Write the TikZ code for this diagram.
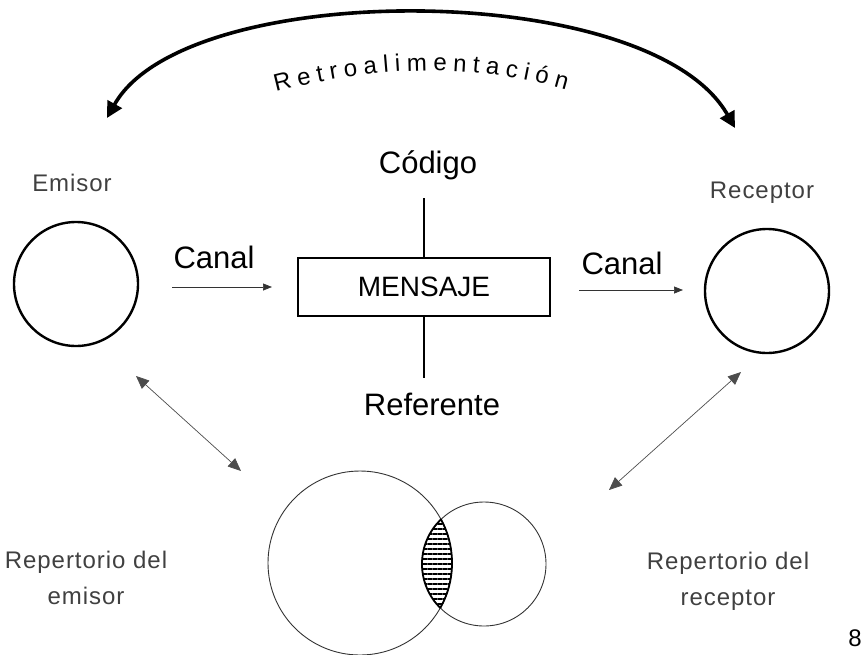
\documentclass[tikz,border=0pt]{standalone}
\usepackage{fontspec}
\setmainfont{Liberation Sans}
\newfontfamily\thinfont[LetterSpace=4]{Liberation Sans}
\usetikzlibrary{arrows.meta,decorations.text,patterns.meta}

\tikzset{
  persona/.style={circle,draw,line width=2.4pt,minimum size=124pt,inner sep=0pt},
  rotulo/.style={font=\thinfont\fontsize{24}{24}\selectfont,text=black!75},
  grande/.style={font=\fontsize{31}{31}\selectfont},
  flujo/.style={-{Triangle[length=9pt,width=7pt]},line width=0.7pt,black!80},
  mutuo/.style={{Triangle[length=13pt,width=11pt]}-{Triangle[length=13pt,width=11pt]},line width=0.7pt,black!70},
  venn/.style={circle,draw=black!80,line width=0.9pt,inner sep=0pt},
  caja/.style={draw,line width=2.4pt,minimum width=252pt,minimum height=58pt,inner sep=0pt,font=\fontsize{28}{28}\selectfont}
}

\begin{document}
\begin{tikzpicture}[x=1pt,y=-1pt]
	\useasboundingbox (0,0) rectangle (863,654);
	% retroalimentacion
	\coordinate (fbL) at (107,118);
	\coordinate (fbR) at (735,128);
	\draw[line width=3.6pt,{Triangle[length=16pt,width=16pt]}-{Triangle[length=16pt,width=16pt]}] (fbL) .. controls (185,-22) and (650,-22) .. (fbR);
	\path[decorate,decoration={text along path,text align=fit to path,text format delimiters={|}{|},
		text={|\fontsize{24}{24}\selectfont|Retroalimentación}}] (276,92) .. controls (385,64) and (475,64) .. (566,90);
	% emisor y receptor
	\node[persona] (emisor) at (76,284) {};
	\node[rotulo] (emisorlbl) at (72,183) {Emisor};
	\node[persona] (receptor) at (767,291) {};
	\node[rotulo] (receptorlbl) at (762,193) {Receptor};
	% mensaje
	\node[caja] (mensaje) at (424,287) {MENSAJE};
	\node[grande] (codigo) at (428,165) {Código};
	\node[grande] (referente) at (432,404) {Referente};
	\coordinate (codtop) at (424,198);
	\coordinate (refbot) at (424,378);
	\draw[line width=2.8pt] (codtop) -- (mensaje.north);
	\draw[line width=2.8pt] (mensaje.south) -- (refbot);
	% canales
	\node[grande] (canalE) at (214,257) {Canal};
	\node[grande] (canalR) at (622,263) {Canal};
	\coordinate (cEa) at (172,287);
	\coordinate (cEb) at (272,287);
	\coordinate (cRa) at (579,290);
	\coordinate (cRb) at (683,290);
	\draw[flujo] (cEa) -- (cEb);
	\draw[flujo] (cRa) -- (cRb);
	% repertorios
	\node[venn,minimum size=184pt] (repE) at (360,563) {};
	\node[venn,minimum size=124pt] (repR) at (484,564) {};
	\begin{scope}
		\clip (repE.center) circle (92);
		\fill[pattern={Lines[angle=0,distance=5pt,line width=2pt]}] (repR.center) circle (62);
		\draw[line width=1.8pt] (repR.center) circle (62);
	\end{scope}
	\begin{scope}
		\clip (repR.center) circle (62);
		\draw[line width=1.8pt] (repE.center) circle (92);
	\end{scope}
	\coordinate (dLa) at (136,376);
	\coordinate (dLb) at (241,471);
	\coordinate (dRa) at (741,372);
	\coordinate (dRb) at (609,490);
	\draw[mutuo] (dLa) -- (dLb);
	\draw[mutuo] (dRa) -- (dRb);
	\node[rotulo,align=center] (repElbl) at (86,578) {Repertorio del\\[12pt]emisor};
	\node[rotulo,align=center] (repRlbl) at (728,581) {Repertorio del\\[12pt]receptor};
	\node[font=\fontsize{24}{24}\selectfont] (pagina) at (855,638) {8};
\end{tikzpicture}
\end{document}
